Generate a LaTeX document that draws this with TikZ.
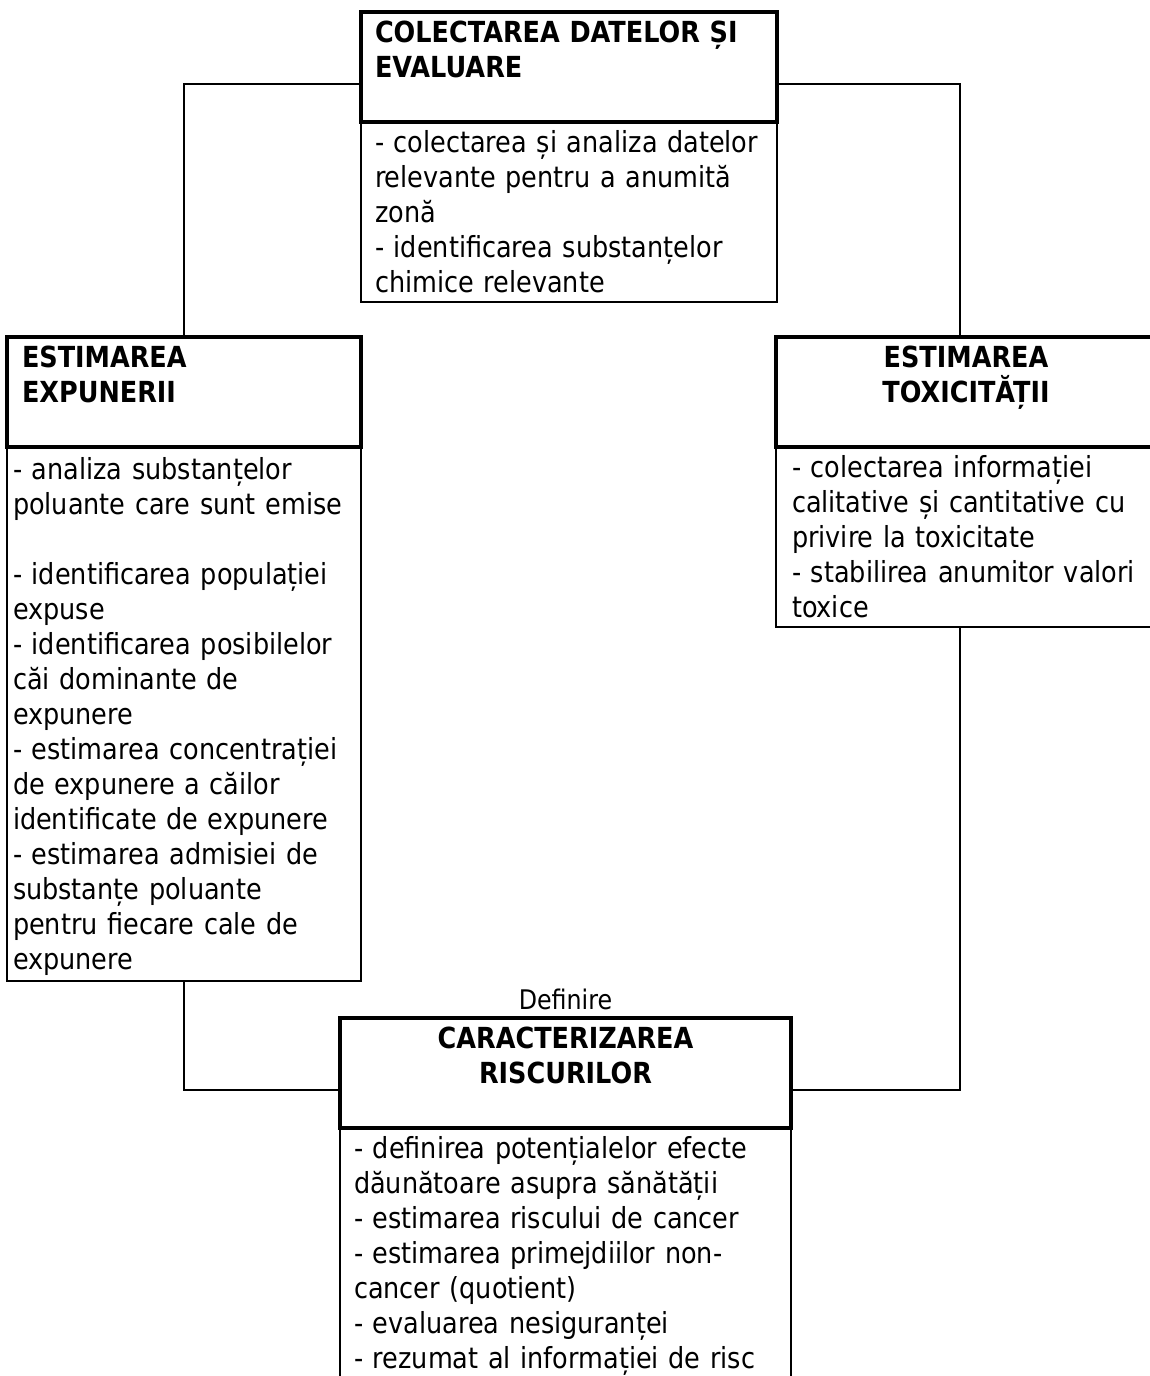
\documentclass[tikz,border=0pt]{standalone}
\usepackage{fontspec}
\setmainfont{DejaVu Sans}[FakeStretch=0.88]
\usetikzlibrary{positioning}
\newcommand{\lnstrut}{\rule[-7pt]{0pt}{35pt}}
\newcommand{\firststrut}{\rule[-7pt]{0pt}{31pt}}
\newcommand{\laststrut}{\rule[-20pt]{0pt}{0pt}}
\tikzset{
  boxbase/.style={rectangle, draw, outer sep=0pt, inner ysep=2.5pt,
                  inner xsep=14pt, anchor=north west,
                  execute at begin node=\lnstrut,
                  execute at end node=\lnstrut},
  headbox/.style={boxbase, line width=3.2pt,
                  font=\fontsize{29}{35}\selectfont\bfseries},
  bodybox/.style={boxbase, line width=1.9pt, align=left,
                  font=\fontsize{29}{35}\selectfont},
  link/.style={draw, line width=1.7pt},
}
\begin{document}
\begin{tikzpicture}[x=1pt, y=-1pt]

  \path[fill=white, use as bounding box] (0,0) rectangle (1149,1376);

  % top: data collection
  \node[headbox, align=left, text width=388pt] (tophdr) at (361,12)
    {COLECTAREA DATELOR ȘI\\EVALUARE\\~};
  \node[bodybox, text width=388pt, below=0pt of tophdr.south west,
        anchor=north west] (topbody)
    {- colectarea și analiza datelor\\relevante pentru a anumită\\zonă\\- identificarea substanțelor\\chimice relevante};

  % left: exposure
  \node[headbox, align=left, inner xsep=15pt, text width=324pt] (lefthdr) at (7,337)
    {ESTIMAREA\\EXPUNERII\\~};
  \node[bodybox, inner xsep=6pt, text width=342pt, minimum height=534pt,
        below=0pt of lefthdr.south west, anchor=north west] (leftbody)
    {- analiza substanțelor\\poluante care sunt emise\\~\\- identificarea populației\\expuse\\- identificarea posibilelor\\căi dominante de\\expunere\\- estimarea concentrației\\de expunere a căilor\\identificate de expunere\\- estimarea admisiei de\\substanțe poluante\\pentru fiecare cale de\\expunere};

  % right: toxicity
  \node[headbox, align=center, inner xsep=16pt, text width=348pt] (righthdr) at (776,337)
    {ESTIMAREA\\TOXICITĂȚII\\~};
  \node[bodybox, inner xsep=16pt, text width=348pt,
        below=0pt of righthdr.south west, anchor=north west] (rightbody)
    {- colectarea informației\\calitative și cantitative cu\\privire la toxicitate\\- stabilirea anumitor valori\\toxice};

  % bottom: risk characterisation (runs past the lower edge)
  \node[headbox, align=center, text width=423pt] (bothdr) at (340,1018)
    {CARACTERIZAREA\\RISCURILOR\\~};
  \node[bodybox, text width=423pt,
        execute at begin node=\firststrut,
        execute at end node=\laststrut,
        below=0pt of bothdr.south west, anchor=north west] (botbody)
    {- definirea potențialelor efecte\\dăunătoare asupra sănătății\\- estimarea riscului de cancer\\- estimarea primejdiilor non-\\cancer (quotient)\\- evaluarea nesiguranței\\- rezumat al informației de risc};
  \node[above=8pt of bothdr.north, inner sep=0pt,
        font=\fontsize{27}{32}\selectfont] (deflbl) {Definire};

  \draw[link] ([yshift=-17pt]tophdr.west) -| (lefthdr.north);
  \draw[link] ([yshift=-17pt]tophdr.east) -| ([xshift=-6pt]righthdr.north);
  \draw[link] (leftbody.south) |- ([yshift=-17pt]bothdr.west);
  \draw[link] ([xshift=-6pt]rightbody.south) |- ([yshift=-17pt]bothdr.east);

\end{tikzpicture}
\end{document}
